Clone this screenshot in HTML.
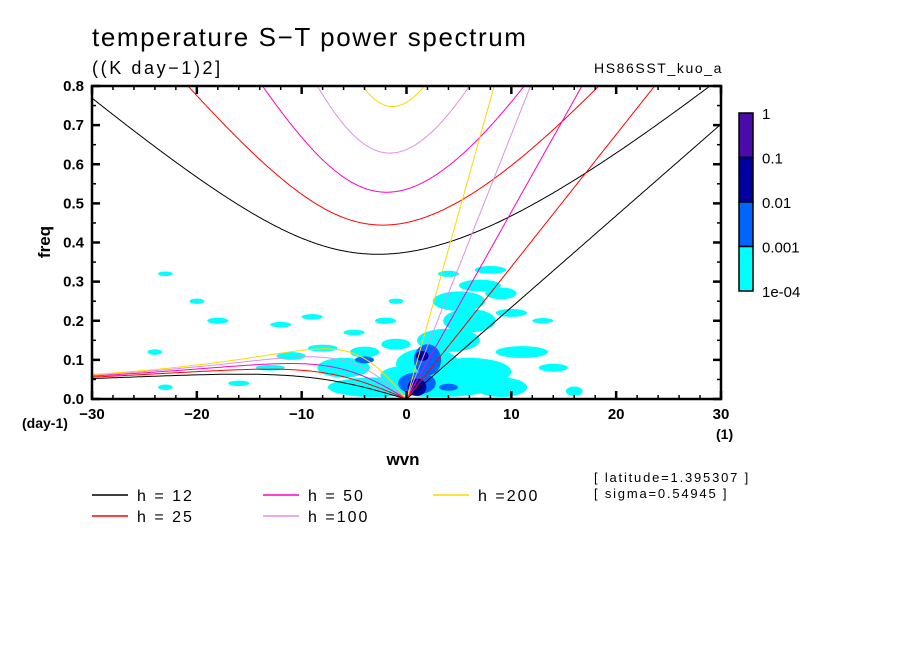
<!DOCTYPE html>
<html><head><meta charset="utf-8">
<style>
body{margin:0;background:#fff;}
svg{display:block;font-family:"Liberation Sans",sans-serif;}
</style></head>
<body>
<svg id="chart" width="904" height="654" viewBox="0 0 904 654">
<rect width="904" height="654" fill="#fff"/>
<text x="92" y="46" font-size="26" letter-spacing="1.6">temperature S−T power spectrum</text>
<text x="92" y="74" font-size="18" letter-spacing="2.6">((K day−1)2]</text>
<text x="723" y="73" font-size="14" letter-spacing="1.6" text-anchor="end">HS86SST_kuo_a</text>
<defs><clipPath id="pc"><rect x="92" y="86" width="629" height="313"/></clipPath></defs>
<g id="shade" clip-path="url(#pc)"></g>
<g id="curves" clip-path="url(#pc)"></g>
<g id="axes"></g>
<text x="50" y="242" font-size="17" font-weight="bold" transform="rotate(-90 50 242)" text-anchor="middle">freq</text>
<text x="403" y="465" font-size="17" font-weight="bold" text-anchor="middle">wvn</text>
<text x="22" y="428" font-size="14" font-weight="bold">(day-1)</text>
<text x="716" y="439" font-size="14" font-weight="bold">(1)</text>
<g id="cbar"></g>
<g id="legend"></g>
<text x="594" y="482" font-size="13" letter-spacing="1.8">[ latitude=1.395307 ]</text>
<text x="594" y="498" font-size="13" letter-spacing="1.8">[ sigma=0.54945 ]</text>
</svg>
<script>
const depths=[12,25,50,100,200];
const depthColors=["#000000","#ff0000","#ff00c0","#e090e0","#ffd700"];
const depthLabels=["h = 12","h = 25","h = 50","h =100","h =200"];
const xTicks=[-30,-20,-10,0,10,20,30];
const yTicks=[0,0.1,0.2,0.3,0.4,0.5,0.6,0.7,0.8];
const cbarLabels=["1","0.1","0.01","0.001","1e-04"];
const levelColors=["#00ffff","#0064ff","#0000a0","#4b0aaa"];
// power blobs: centre wvn, centre freq, half-width (wvn), half-height (freq), level
const blobW=[-3,3,-6,2,6,9,4,6,5,7,9,8,4,10,11,-11,-16,-13,-8,-5,-18,-9,-20,-12,-2,-23,-24,-23,-1,14,16,13,-4,0,-1, 2,1,-4,4, 1,1.5];
const blobF=[0.03,0.04,0.08,0.09,0.07,0.03,0.15,0.2,0.25,0.29,0.27,0.33,0.32,0.22,0.12,0.11,0.04,0.08,0.13,0.17,0.2,0.21,0.25,0.19,0.2,0.03,0.12,0.32,0.25,0.08,0.02,0.2,0.12,0.06,0.14, 0.1,0.04,0.1,0.03, 0.03,0.11];
const blobRW=[4.5,6,2.5,3,4,2.5,3,2.5,2.5,2,1.5,1.5,1,1.5,2.5,1.4,1,1.4,1.4,1,1,1,0.7,1,1,0.7,0.7,0.7,0.7,1.4,0.8,1,1.4,2.5,1.4, 1.3,1.8,0.9,0.9, 0.9,0.6];
const blobRF=[0.025,0.035,0.025,0.04,0.035,0.025,0.03,0.03,0.025,0.015,0.015,0.01,0.008,0.01,0.015,0.01,0.007,0.007,0.009,0.007,0.008,0.007,0.007,0.007,0.008,0.007,0.007,0.006,0.007,0.01,0.012,0.007,0.014,0.025,0.014, 0.04,0.028,0.009,0.009, 0.022,0.013];
const blobLev=[1,1,1,1,1,1,1,1,1,1,1,1,1,1,1,1,1,1,1,1,1,1,1,1,1,1,1,1,1,1,1,1,1,1,1, 2,2,2,2, 3,3];

const X0=92,X1=721,Y0=399,Y1=86;
const xs=w=>X0+(w+30)/60*(X1-X0);
const ys=f=>Y0-f/0.8*(Y0-Y1);
const NS="http://www.w3.org/2000/svg";
function mk(tag,attrs,parent){const e=document.createElementNS(NS,tag);for(const k in attrs)e.setAttribute(k,attrs[k]);parent.appendChild(e);return e;}

const shade=document.getElementById('shade');
for(let i=0;i<blobW.length;i++){
  const e=mk('ellipse',{cx:xs(blobW[i]),cy:ys(blobF[i]),rx:blobRW[i]*(X1-X0)/60,ry:blobRF[i]*(Y0-Y1)/0.8,fill:levelColors[blobLev[i]-1]},shade);
  
  
}

// dispersion curves
const g=9.81,a=6.371e6,beta=2*7.292e-5/a;
function roots(kh){const p=-(kh*kh+3),q=-kh;const m=2*Math.sqrt(-p/3);
  let arg=3*q/(2*p)*Math.sqrt(-3/p);arg=Math.max(-1,Math.min(1,arg));const th=Math.acos(arg)/3;
  return [0,1,2].map(j=>m*Math.cos(th-2*Math.PI*j/3)).sort((x,y)=>x-y);}
const curves=document.getElementById('curves');
depths.forEach((h,i)=>{
  const c=Math.sqrt(g*h),L=Math.sqrt(c/beta),W=Math.sqrt(beta*c)*86400/(2*Math.PI);
  let ig=[],ro=[],kv=[];
  for(let k=-30;k<=30.001;k+=0.1){
    const kh=k/a*L,r=roots(kh);
    ig.push([xs(k),ys(r[2]*W)]);
    if(k<=0.001)ro.push([xs(k),ys(r[1]*W)]);
    if(k>=-0.001)kv.push([xs(k),ys(kh*W)]);
  }
  [[ig,'ig-curve'],[ro,'rossby-curve'],[kv,'kelvin-line']].forEach(([pts,nm])=>{
    const e=mk('polyline',{points:pts.map(p=>p[0].toFixed(1)+','+p[1].toFixed(1)).join(' '),fill:'none',stroke:depthColors[i],'stroke-width':1},curves);
    
    
  });
});

// axes
const ax=document.getElementById('axes');
mk('rect',{x:X0,y:Y1,width:X1-X0,height:Y0-Y1,fill:'none',stroke:'#000','stroke-width':2.5},ax);
for(let w=-30;w<=30;w+=2){const maj=w%10===0;const l=maj?8:4;
  mk('line',{x1:xs(w),x2:xs(w),y1:Y0,y2:Y0-l,stroke:'#000','stroke-width':maj?2.5:1.5},ax);
  mk('line',{x1:xs(w),x2:xs(w),y1:Y1,y2:Y1+l,stroke:'#000','stroke-width':maj?2.5:1.5},ax);}
for(let j=0;j<=16;j++){const f=j*0.05;const maj=j%2===0;const l=maj?8:4;
  mk('line',{x1:X0,x2:X0+l,y1:ys(f),y2:ys(f),stroke:'#000','stroke-width':maj?2.5:1.5},ax);
  mk('line',{x1:X1,x2:X1-l,y1:ys(f),y2:ys(f),stroke:'#000','stroke-width':maj?2.5:1.5},ax);}
xTicks.forEach(w=>{const t=mk('text',{x:xs(w),y:419,'font-size':15,'font-weight':'bold','text-anchor':'middle'},ax);t.textContent=w<0?'−'+(-w):String(w);
  
  });
yTicks.forEach(f=>{const t=mk('text',{x:84,y:ys(f)+5,'font-size':15,'font-weight':'bold','text-anchor':'end'},ax);t.textContent=f===0?'0.0':f.toFixed(1);
  
  });

// colorbar
const cb=document.getElementById('cbar');
const cbTop=113,cbH=44.5;
for(let i=0;i<4;i++){const r=mk('rect',{x:739,y:cbTop+i*cbH,width:14,height:cbH,fill:levelColors[3-i],stroke:'#000','stroke-width':1.5},cb);
  
  }
cbarLabels.forEach((s,i)=>{const t=mk('text',{x:762,y:cbTop+i*cbH+6,'font-size':15},cb);t.textContent=s;
  
  });

// legend
const lg=document.getElementById('legend');
const lx=[92,92,263,263,433],ly=[495,516,495,516,495];
depths.forEach((h,i)=>{
  const l=mk('line',{x1:lx[i],x2:lx[i]+36,y1:ly[i],y2:ly[i],stroke:depthColors[i],'stroke-width':1.5},lg);
  
  
  const t=mk('text',{x:lx[i]+45,y:ly[i]+6,'font-size':16,'letter-spacing':2},lg);t.textContent=depthLabels[i];
  
  
});
</script>
</body></html>
